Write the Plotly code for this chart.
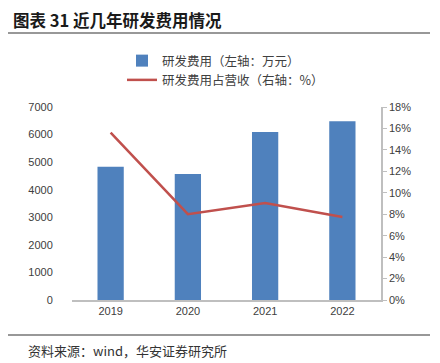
import plotly.graph_objects as go

years = ["2019", "2020", "2021", "2022"]
rd_expense = [4830, 4570, 6090, 6480]          # 万元, left axis
rd_ratio = [15.6, 8.0, 9.05, 7.75]              # %, right axis
left_ticks = [0, 1000, 2000, 3000, 4000, 5000, 6000, 7000]
right_ticks = [0, 2, 4, 6, 8, 10, 12, 14, 16, 18]

OFF = 8  # page body margin
W, H = 440 - OFF, 363 - OFF
L, T = 72 - OFF, 107 - OFF
pw, ph = 309, 193
R, B = W - L - pw, H - T - ph

def px(x):  # page pixel -> paper
    return (x - OFF - L) / pw

def py(y):
    return (T + ph - (y - OFF)) / ph

cjk = "Noto Sans CJK SC"
fig = go.Figure()
fig.add_trace(go.Bar(
    x=years, y=rd_expense, name="研发费用（左轴：万元）",
    marker=dict(color="#4F81BD", line=dict(width=0)), width=0.34,
    yaxis="y"))
fig.add_trace(go.Scatter(
    x=years, y=rd_ratio, name="研发费用占营收（右轴：%）", mode="lines",
    line=dict(color="#C0504D", width=2.5), yaxis="y2"))

fig.update_layout(
    width=W, height=H, margin=dict(l=L, r=R, t=T, b=B),
    paper_bgcolor="white", plot_bgcolor="white",
    font=dict(family="Arial, Liberation Sans, " + cjk, size=11, color="#404040"),
    showlegend=True,
    legend=dict(x=px(122), y=py(46), xanchor="left", yanchor="top",
                orientation="v", font=dict(family=cjk, size=12.5, color="#404040"),
                itemwidth=30, tracegroupgap=0, bgcolor="rgba(0,0,0,0)"),
    xaxis=dict(showline=True, linecolor="#BFBFBF", linewidth=1.5, ticks="",
               showgrid=False, tickfont=dict(size=11, color="#404040")),
    yaxis=dict(range=[0, 7000], tickvals=left_ticks, showgrid=False, zeroline=False,
               showline=False, ticks="outside", ticklen=16, tickcolor="rgba(0,0,0,0)",
               tickfont=dict(size=11, color="#404040")),
    yaxis2=dict(range=[0, 18], tickvals=right_ticks, ticktext=[f"{v}%" for v in right_ticks],
                overlaying="y", side="right", showgrid=False, zeroline=False,
                showline=True, linecolor="#BFBFBF", linewidth=1.5, ticks="outside",
                ticklen=4, tickcolor="#BFBFBF", tickfont=dict(size=11, color="#404040")),
    bargap=0.66,
)

fig.add_annotation(text="<b>图表 31 近几年研发费用情况</b>", xref="paper", yref="paper",
                   x=px(11), y=py(20), xanchor="left", yanchor="middle", showarrow=False,
                   font=dict(family=cjk, size=16.5, color="#1a1a1a"))
fig.add_annotation(text="资料来源：wind，华安证券研究所", xref="paper", yref="paper",
                   x=px(26), y=py(350), xanchor="left", yanchor="middle", showarrow=False,
                   font=dict(family=cjk, size=13, color="#333333"))
fig.add_shape(type="line", xref="paper", yref="paper", x0=px(OFF), x1=px(430),
              y0=py(33), y1=py(33), line=dict(color="#333333", width=1.2))
fig.add_shape(type="line", xref="paper", yref="paper", x0=px(OFF), x1=px(430),
              y0=py(335), y1=py(335), line=dict(color="#333333", width=1.2))

fig.write_html("out.html")
